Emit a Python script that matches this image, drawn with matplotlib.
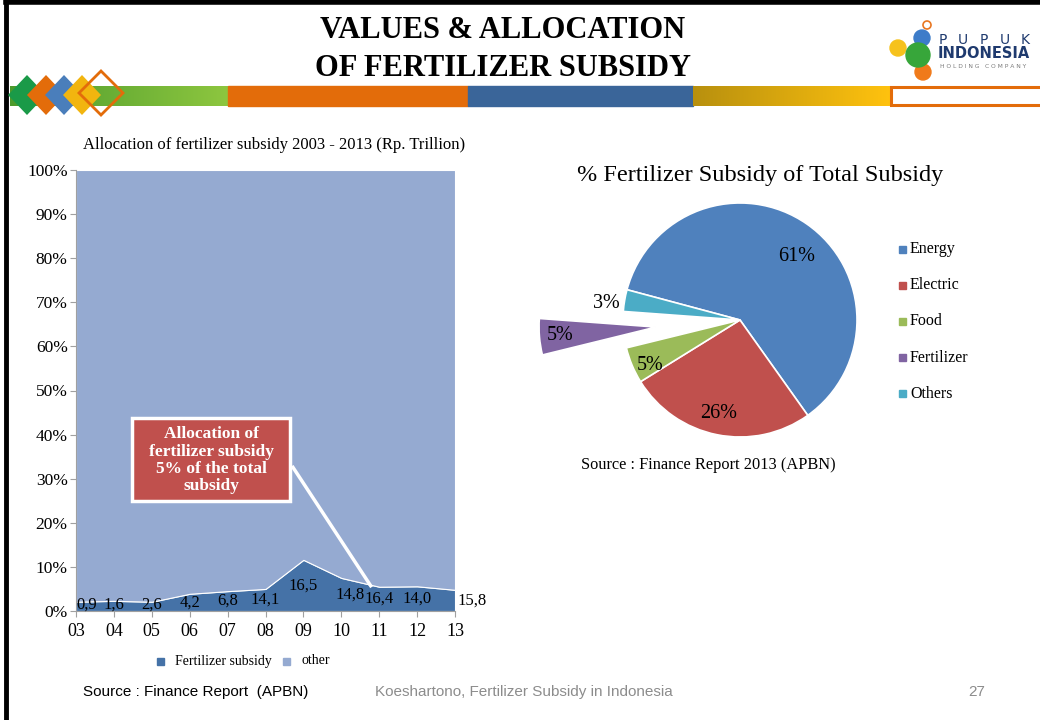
import numpy as np
import matplotlib
matplotlib.use("Agg")
import matplotlib.pyplot as plt
from matplotlib.patches import Rectangle, Polygon, Circle

plt.rcParams['font.family'] = ['Liberation Serif', 'DejaVu Serif']

# --- data: left area chart (share of total subsidy, %) ---
years = ['03', '04', '05', '06', '07', '08', '09', '10', '11', '12', '13']
fert_pct = [2.1, 2.3, 2.1, 3.9, 4.5, 5.0, 11.6, 7.5, 5.5, 5.6, 4.8]
fert_values = ['0,9', '1,6', '2,6', '4,2', '6,8', '14,1', '16,5', '14,8', '16,4', '14,0', '15,8']
area_labels = ['Fertilizer subsidy', 'other']

# --- data: pie chart ---
pie_labels = ['Energy', 'Electric', 'Food', 'Fertilizer', 'Others']
pie_shares = [61, 26, 5, 5, 3]

FERT_C = '#4572A7'
OTHER_C = '#95AAD1'
PIE_C = ['#4F81BD', '#C0504D', '#9BBB59', '#8064A2', '#4BACC6']

fig = plt.figure(figsize=(10.4, 7.2), dpi=100)

# overlay in pixel coords for slide decorations and free text
ov = fig.add_axes([0, 0, 1, 1])
ov.axis('off')

# slide border
ov.plot([6, 6], [0, 720], color='black', lw=3.5)
ov.plot([6, 1040], [2, 2], color='black', lw=4)

# colour band
def grad(x0, x1, y0, y1, c0, c1):
    c0 = np.array(matplotlib.colors.to_rgb(c0))
    c1 = np.array(matplotlib.colors.to_rgb(c1))
    t = np.linspace(0, 1, 200)[None, :, None]
    img = c0 + (c1 - c0) * t
    ov.imshow(img, extent=(x0, x1, y1, y0), aspect='auto', zorder=1)

grad(10, 228, 86, 106, '#4C9A2C', '#8DC63F')
ov.add_patch(Rectangle((228, 86), 240, 20, color='#E36C0A', zorder=1))
ov.add_patch(Rectangle((468, 86), 225, 20, color='#3A6599', zorder=1))
grad(693, 890, 86, 106, '#B8900E', '#FFC20E')
ov.add_patch(Rectangle((891, 87), 160, 18, facecolor='white', edgecolor='#E36C0A', lw=2.2, zorder=1))
ov.set_xlim(0, 1040)
ov.set_ylim(720, 0)

# diamonds
for cx, col in zip([27, 46, 64, 82], ['#1A9A48', '#E36C0A', '#4A7EBB', '#F2B50F']):
    ov.add_patch(Polygon([[cx - 19, 95], [cx, 75], [cx + 19, 95], [cx, 115]],
                         closed=True, facecolor=col, edgecolor='none', zorder=2))
ov.add_patch(Polygon([[79, 93], [101, 71], [123, 93], [101, 115]], closed=True,
                     facecolor='none', edgecolor='#E36C0A', lw=2, zorder=3))

# logo
ov.add_patch(Circle((927, 25), 4, facecolor='white', edgecolor='#E87722', lw=1.2, zorder=2))
ov.add_patch(Circle((922, 38), 8, color='#3D7CC9', zorder=2))
ov.add_patch(Circle((898, 48), 8, color='#F6C21C', zorder=2))
ov.add_patch(Circle((923, 72), 8, color='#F07A1A', zorder=2))
ov.add_patch(Circle((918, 55), 12, color='#37A63A', zorder=3))
for lx, ch in zip([943, 963, 984, 1005, 1025], 'PUPUK'):
    ov.text(lx, 40, ch, fontsize=10, family='DejaVu Sans', color='#1F3A6E',
            ha='center', va='center')
ov.text(984, 54, 'INDONESIA', fontsize=10.5, family='DejaVu Sans', weight='bold',
        color='#1F3A6E', ha='center', va='center')
ov.text(983, 67, 'H O L D I N G   C O M P A N Y', fontsize=4.3, family='DejaVu Sans',
        color='#7A7A7A', ha='center', va='center')

# header title
ov.text(503, 30, 'VALUES & ALLOCATION', fontsize=22, weight='bold',
        ha='center', va='center')
ov.text(503, 68, 'OF FERTILIZER SUBSIDY', fontsize=22, weight='bold',
        ha='center', va='center')

# --- left: 100% stacked area ---
ax = fig.add_axes([76 / 1040, 109 / 720, 379 / 1040, 441 / 720])
x = np.arange(len(years))
other_pct = [100 - p for p in fert_pct]
ax.stackplot(x, fert_pct, other_pct, colors=[FERT_C, OTHER_C],
             edgecolor='white', linewidth=0.8)
ax.set_xlim(0, len(years) - 1)
ax.set_ylim(0, 100)
ax.set_xticks(x)
ax.set_xticklabels(years, fontsize=13)
ax.set_yticks(range(0, 101, 10))
ax.set_yticklabels([f'{v}%' for v in range(0, 101, 10)], fontsize=12.5)
for s in ['top', 'right']:
    ax.spines[s].set_visible(False)
for s in ['left', 'bottom']:
    ax.spines[s].set_color('#A0A0A0')
    ax.spines[s].set_linewidth(0.8)
ax.tick_params(axis='both', color='#A0A0A0', length=4, width=0.8)
ax.tick_params(axis='x', pad=5)
ax.tick_params(axis='y', pad=2)

for i, (p, lab) in enumerate(zip(fert_pct, fert_values)):
    dx = 0
    if i == 0:
        dx = 8
    elif i == len(years) - 1:
        dx = 12
    elif i == 7:
        dx = 6
    ax.annotate(lab, (i, max(p / 2, 1.4)), xytext=(dx, 0), textcoords='offset points',
                ha='center', va='center', fontsize=12, zorder=5)

# callout box
ax.add_patch(Rectangle((1.48, 24.9), 4.17, 18.9, facecolor='#C0504D', edgecolor='white',
                       lw=2.5, zorder=6))
ax.text(3.565, 34.2, 'Allocation of\nfertilizer subsidy\n5% of the total\nsubsidy',
        ha='center', va='center', color='white', weight='bold', fontsize=12.5,
        linespacing=1.1, zorder=7)
ax.plot([5.70, 7.8], [32.9, 5.4], color='white', lw=2.5, zorder=5, solid_capstyle='butt')

ov.text(83, 145, 'Allocation of fertilizer subsidy 2003 - 2013 (Rp. Trillion)',
        fontsize=12, va='center', ha='left')

# left legend
for sx, tx, col, lab in zip([157, 283], [175, 301], [FERT_C, OTHER_C], area_labels):
    ov.add_patch(Rectangle((sx, 658), 7, 7, color=col))
    ov.text(tx, 661, lab, fontsize=10, va='center', ha='left')

# --- right: pie ---
R_PX = 117
pax = fig.add_axes([540 / 1040, 200 / 720, 400 / 1040, 400 / 720])
explode = [0, 0, 0, 0.72, 0]
wedges, _ = pax.pie(pie_shares, colors=PIE_C, startangle=165, counterclock=False,
                    explode=explode, radius=1,
                    wedgeprops=dict(edgecolor='white', linewidth=1.2))
lim = 200 / R_PX
pax.set_xlim(-lim, lim)
pax.set_ylim(-lim, lim)
pax.set_aspect('equal')
pax.axis('off')

# label placement: (radius, angle shift in degrees) per wedge
label_pos = [(0.73, -7), (0.82, -1.5), (0.86, 4), (0.82, 0), (1.15, 2.5)]
for w, share, (r, dth) in zip(wedges, pie_shares, label_pos):
    ang = np.deg2rad((w.theta1 + w.theta2) / 2 + dth)
    cx, cy = w.center
    pax.text(cx + r * np.cos(ang), cy + r * np.sin(ang), f'{share}%',
             ha='center', va='center', fontsize=14.5)

ov.text(760, 176, '% Fertilizer Subsidy of Total Subsidy', fontsize=17.5,
        ha='center', va='center')

for i, (lab, col) in enumerate(zip(pie_labels, PIE_C)):
    yy = 249 + i * 36.2
    ov.add_patch(Rectangle((899, yy - 3.5), 7, 7, color=col))
    ov.text(910, yy, lab, fontsize=11.5, va='center', ha='left')

ov.text(581, 465, 'Source : Finance Report 2013 (APBN)', fontsize=11.8, va='center', ha='left')

# footer
foot = 'Liberation Sans'
ov.text(83, 692, 'Source : Finance Report  (APBN)', fontsize=11, family=foot,
        va='center', ha='left')
ov.text(375, 692, 'Koeshartono, Fertilizer Subsidy in Indonesia', fontsize=11,
        family=foot, color='#8C8C8C', va='center', ha='left')
ov.text(985, 692, '27', fontsize=11, family=foot, color='#8C8C8C', va='center', ha='right')

fig.savefig('out.png', dpi=100)
